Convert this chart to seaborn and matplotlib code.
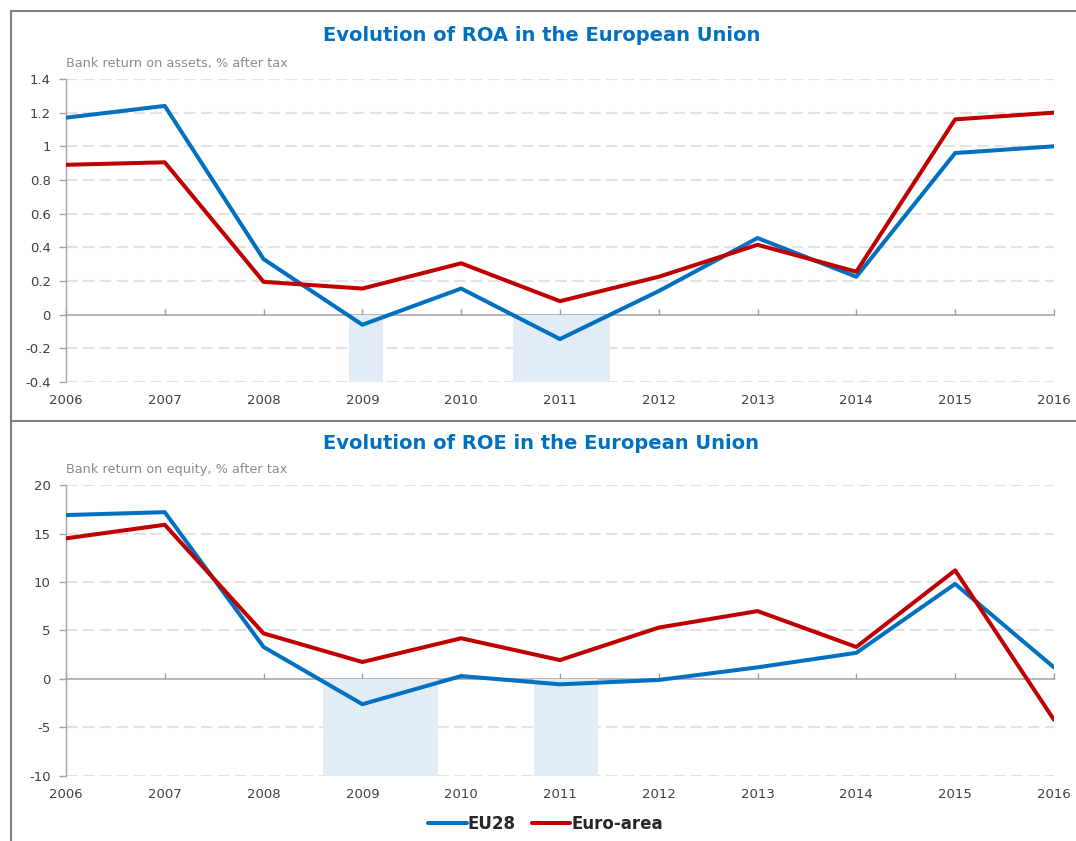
import pandas as pd
import matplotlib.pyplot as plt
import seaborn as sns
from matplotlib.lines import Line2D
from matplotlib.ticker import FuncFormatter

# Data
years = list(range(2006, 2017))
roa_eu28 = [1.17, 1.24, 0.33, -0.06, 0.155, -0.145, 0.14, 0.455, 0.225, 0.96, 1.0]
roa_euro = [0.89, 0.905, 0.195, 0.155, 0.305, 0.08, 0.225, 0.415, 0.255, 1.16, 1.2]
roe_eu28 = [16.9, 17.2, 3.3, -2.6, 0.3, -0.55, -0.1, 1.2, 2.7, 9.8, 1.2]
roe_euro = [14.5, 15.9, 4.7, 1.75, 4.2, 1.95, 5.3, 7.0, 3.3, 11.2, -4.2]

# shaded periods (negative EU28 returns)
roa_shade = [(2008.86, 2009.21), (2010.52, 2011.51)]
roe_shade = [(2008.60, 2009.77), (2010.74, 2011.39)]

series_names = ['EU28', 'Euro-area']
colors = {'EU28': '#0070C0', 'Euro-area': '#C00000'}

sns.set_style('white')
plt.rcParams['font.family'] = ['DejaVu Sans']

fig = plt.figure(figsize=(10.76, 8.41), dpi=100)
ax1 = fig.add_axes([0.0613, 0.5458, 0.9182, 0.3603])
ax2 = fig.add_axes([0.0613, 0.0773, 0.9182, 0.3460])

panels = [
    (ax1, roa_eu28, roa_euro, roa_shade, (-0.4, 1.4), 0.2,
     'Evolution of ROA in the European Union', 'Bank return on assets, % after tax'),
    (ax2, roe_eu28, roe_euro, roe_shade, (-10, 20), 5,
     'Evolution of ROE in the European Union', 'Bank return on equity, % after tax'),
]

for ax, eu, ea, shade, ylim, step, title, sub in panels:
    df = pd.DataFrame({
        'year': years * 2,
        'value': eu + ea,
        'series': ['EU28'] * len(years) + ['Euro-area'] * len(years),
    })

    # light blue shading from zero down to the bottom of the axis
    for a, b in shade:
        ax.fill_between([a, b], ylim[0], 0, color='#E1ECF7', lw=0, zorder=1)

    sns.lineplot(data=df, x='year', y='value', hue='series', hue_order=series_names,
                 palette=colors, linewidth=2.9, ax=ax, zorder=4)
    handles, labels = ax.get_legend_handles_labels()
    ax.get_legend().remove()

    ax.set_xlim(2006, 2016)
    ax.set_ylim(*ylim)
    n = int(round((ylim[1] - ylim[0]) / step))
    yt = [ylim[0] + i * step for i in range(n + 1)]
    ax.set_yticks(yt)
    ax.yaxis.set_major_formatter(FuncFormatter(lambda v, p: f'{round(v, 2):g}'))
    ax.set_xticks(years)
    ax.set_xlabel('')
    ax.set_ylabel('')

    ax.grid(axis='y', linestyle=(0, (5.5, 2.6)), color='#e2e2e2', lw=1.5, zorder=0)
    ax.grid(axis='x', visible=False)
    # no dashed gridline under the zero axis
    for v, gl in zip(yt, ax.get_ygridlines()):
        if abs(v) < 1e-9:
            gl.set_visible(False)
    for s in ['top', 'right', 'bottom']:
        ax.spines[s].set_visible(False)
    ax.spines['left'].set_color('#a6a6a6')
    ax.spines['left'].set_linewidth(1.0)

    ax.tick_params(axis='x', length=0, pad=9, labelsize=9.5, labelcolor='#404040')
    ax.tick_params(axis='y', length=5, width=1, color='#a6a6a6', pad=6,
                   labelsize=9.5, labelcolor='#404040', left=True)

    # x axis line at zero with inward tick marks
    sec = ax.secondary_xaxis(0, transform=ax.transData)
    sec.set_xticks(years)
    sec.tick_params(direction='in', length=4, width=1, color='#a0a0a0', labelbottom=False)
    for s in sec.spines.values():
        s.set_color('#a0a0a0')
        s.set_linewidth(1.1)

    ax.text(0.0, 1.03, sub, transform=ax.transAxes, ha='left', va='bottom',
            fontsize=9.3, color='#8c8c8c')

fig.text(0.503, 0.958, 'Evolution of ROA in the European Union', ha='center', va='center',
         fontsize=14, fontweight='bold', color='#0070C0')
fig.text(0.503, 0.473, 'Evolution of ROE in the European Union', ha='center', va='center',
         fontsize=14, fontweight='bold', color='#0070C0')

# frame lines around the panels
border = dict(color='#808080', lw=1.5, transform=fig.transFigure)
fig.add_artist(Line2D([0.0102, 1.02], [0.9869, 0.9869], **border))
fig.add_artist(Line2D([0.0102, 0.0102], [-0.02, 0.9869], **border))
fig.add_artist(Line2D([0.0102, 1.02], [0.4994, 0.4994], **border))

fig.legend(handles, labels, loc='center', bbox_to_anchor=(0.507, 0.02), ncol=2,
           frameon=False, handlelength=2.3, handletextpad=0.05, columnspacing=1.0,
           prop={'weight': 'bold', 'size': 12})

plt.savefig('out.png', dpi=100)
